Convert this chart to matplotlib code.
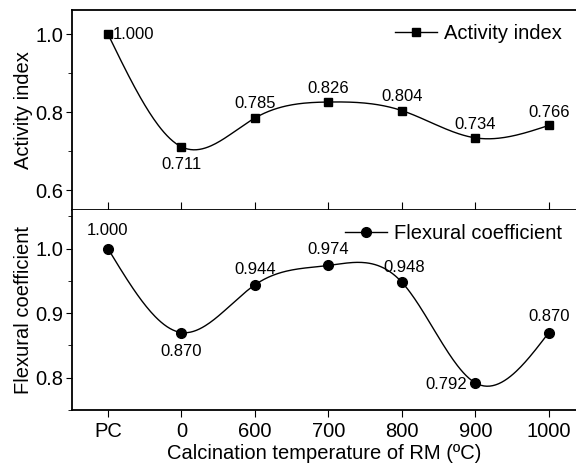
import numpy as np
import matplotlib
matplotlib.use("Agg")
import matplotlib.pyplot as plt
from matplotlib.ticker import MultipleLocator, FormatStrFormatter

plt.rcParams["font.family"] = ["Liberation Sans", "DejaVu Sans"]

# ====== 数据 ======
categories = ["PC", "0", "600", "700", "800", "900", "1000"]
activity_index = [1.000, 0.711, 0.785, 0.826, 0.804, 0.734, 0.766]
flexural_coef = [1.000, 0.870, 0.944, 0.974, 0.948, 0.792, 0.870]

# 标注偏移 (dx, dy 像素) 与水平对齐
act_offsets = [(5, 0, "left"), (0, -18, "center"), (0, 14, "center"),
               (0, 14, "center"), (0, 14, "center"), (0, 13, "center"), (0, 13, "center")]
flex_offsets = [(0, 18, "center"), (0, -19, "center"), (0, 15, "center"),
                (0, 16, "center"), (2, 15, "center"), (-8, -2, "right"), (0, 16, "center")]


def natural_spline(x, y, n=300):
    # 自然三次样条，只用来画平滑曲线
    x = np.asarray(x, float)
    y = np.asarray(y, float)
    m = len(x)
    h = np.diff(x)
    A = np.zeros((m, m))
    b = np.zeros(m)
    A[0, 0] = A[-1, -1] = 1
    for i in range(1, m - 1):
        A[i, i - 1] = h[i - 1]
        A[i, i] = 2 * (h[i - 1] + h[i])
        A[i, i + 1] = h[i]
        b[i] = 6 * ((y[i + 1] - y[i]) / h[i] - (y[i] - y[i - 1]) / h[i - 1])
    M = np.linalg.solve(A, b)
    xs = np.linspace(x[0], x[-1], n)
    idx = np.clip(np.searchsorted(x, xs) - 1, 0, m - 2)
    x0, x1 = x[idx], x[idx + 1]
    hh = x1 - x0
    ys = (M[idx] * (x1 - xs) ** 3 / (6 * hh) + M[idx + 1] * (xs - x0) ** 3 / (6 * hh)
          + (y[idx] / hh - M[idx] * hh / 6) * (x1 - xs)
          + (y[idx + 1] / hh - M[idx + 1] * hh / 6) * (xs - x0))
    return xs, ys


xpos = np.arange(len(categories))

fig = plt.figure(figsize=(5.76, 4.68), dpi=100)
ax1 = fig.add_axes([0.125, 0.5513, 0.875, 0.4273])
ax2 = fig.add_axes([0.125, 0.124, 0.875, 0.4273])

panels = [
    (ax1, activity_index, "s", 6.0, "Activity index", act_offsets, (0.549, 1.062), 0.2, 0.1),
    (ax2, flexural_coef, "o", 7.0, "Flexural coefficient", flex_offsets, (0.75, 1.06), 0.1, 0.05),
]
for ax, vals, mk, ms, label, offs, ylim, major, minor in panels:
    xs, ys = natural_spline(xpos, vals)
    ax.plot(xs, ys, color="black", lw=1.0)
    ax.plot(xpos, vals, linestyle="none", marker=mk, color="black", markersize=ms)
    ax.plot([], [], color="black", lw=1.0, marker=mk, markersize=ms, label=label)
    for xi, v, (dx, dy, ha) in zip(xpos, vals, offs):
        ax.annotate(f"{v:.3f}", (xi, v), xytext=(dx * 0.72, dy * 0.72), textcoords="offset points",
                    ha=ha, va="center", fontsize=12)
    ax.set_xlim(-0.49, 6.37)
    ax.set_ylim(*ylim)
    ax.yaxis.set_major_locator(MultipleLocator(major))
    ax.yaxis.set_minor_locator(MultipleLocator(minor))
    ax.yaxis.set_major_formatter(FormatStrFormatter("%.1f"))
    ax.set_ylabel(label, fontsize=14.5)
    ax.tick_params(axis="y", which="both", direction="out", labelsize=14.5, pad=2)
    ax.tick_params(axis="y", which="major", length=4)
    ax.tick_params(axis="y", which="minor", length=3)
    ax.set_xticks(xpos)
    ax.spines["right"].set_visible(False)
    for s in ax.spines.values():
        s.set_linewidth(1.3)
    ax.legend(loc="upper right", frameon=False, fontsize=14.5, handlelength=2.1,
              borderaxespad=0.3, handletextpad=0.35)

ax1.tick_params(axis="x", direction="in", length=6, labelbottom=False)
ax2.tick_params(axis="x", direction="out", length=5, labelsize=14.5)
ax2.set_xticklabels(categories)
ax2.spines["top"].set_visible(False)
ax2.set_xlabel("Calcination temperature of RM (ºC)", fontsize=14.5, labelpad=2)
ax1.yaxis.set_label_coords(-0.078, 0.5)
ax2.yaxis.set_label_coords(-0.078, 0.5)

fig.savefig("out.png", dpi=100)
